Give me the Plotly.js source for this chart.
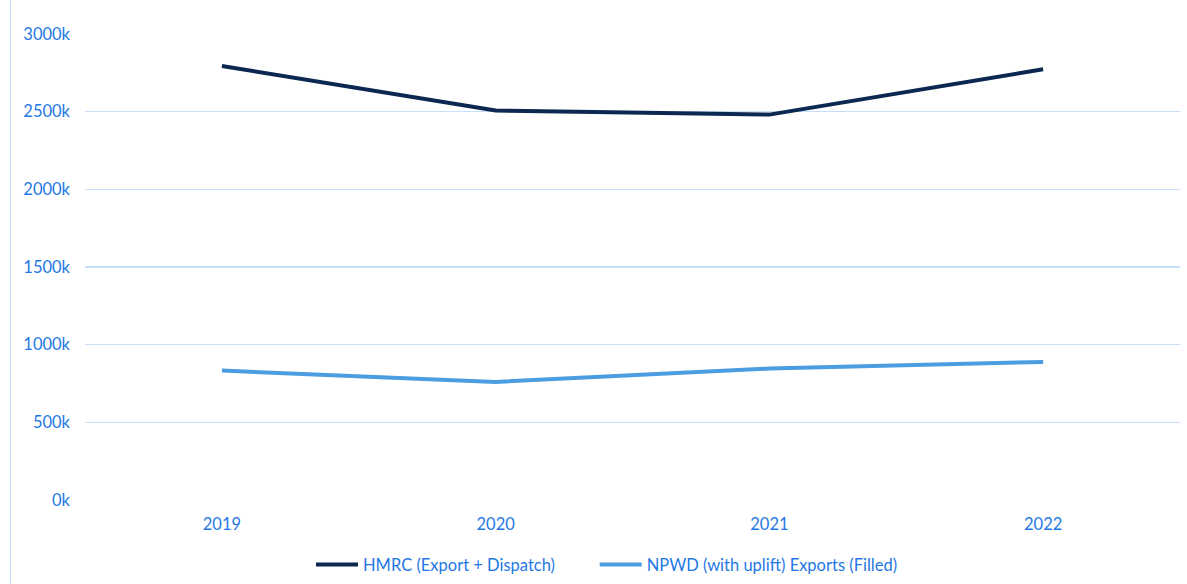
<!DOCTYPE html>
<html>
<head>
<meta charset="utf-8">
<script src="https://cdn.plot.ly/plotly-3.0.1.min.js"></script>
<style>
  html, body { margin: 0; padding: 0; background: #ffffff; }
  #chart { width: 1187px; height: 584px; position: relative; }
  #edge { position: absolute; left: 10px; top: 0; width: 1px; height: 584px; background: #c9defa; z-index: 5; }
</style>
</head>
<body>
<div id="edge"></div>
<div id="chart"></div>
<script>
// Annual tonnage (thousands) by source
const years = ['2019', '2020', '2021', '2022'];
const hmrcExportDispatch = [2794, 2507, 2481, 2773];
const npwdExportsFilled = [833, 760, 846, 889];
const yTickValues = [0, 500, 1000, 1500, 2000, 2500, 3000];
const yTickLabels = ['0k', '500k', '1000k', '1500k', '2000k', '2500k', '3000k'];

const textBlue = '#1f78e4';
const fontFamily = 'Lato, "Open Sans", sans-serif';

const traces = [
  {
    x: years, y: hmrcExportDispatch, type: 'scatter', mode: 'lines',
    name: 'HMRC (Export + Dispatch)', legend: 'legend',
    line: { color: '#0a2850', width: 4 }
  },
  {
    x: years, y: npwdExportsFilled, type: 'scatter', mode: 'lines',
    name: 'NPWD (with uplift) Exports (Filled)', legend: 'legend2',
    line: { color: '#4a9de0', width: 4 }
  }
];

// one legend box per series so the two entries can be spaced freely
function legendBox(left) {
  return {
    orientation: 'h', x: left, xref: 'container', xanchor: 'left',
    y: 0.033, yref: 'container', yanchor: 'middle',
    font: { family: fontFamily, size: 16.5, color: textBlue },
    itemwidth: 42, bgcolor: 'rgba(0,0,0,0)'
  };
}

const layout = {
  width: 1187, height: 584,
  margin: { l: 85, r: 7, t: 34, b: 83.5, autoexpand: false },
  paper_bgcolor: '#ffffff', plot_bgcolor: '#ffffff',
  font: { family: fontFamily, size: 16.5, color: textBlue },
  showlegend: true,
  legend: legendBox(0.262),
  legend2: legendBox(0.501),
  xaxis: {
    type: 'category', range: [-0.5, 3.5],
    showgrid: false, zeroline: false, showline: false, ticks: '',
    ticklabelstandoff: 12,
    tickfont: { family: fontFamily, size: 16.5, color: textBlue }
  },
  yaxis: {
    range: [0, 3000], tickvals: yTickValues, ticktext: yTickLabels,
    showgrid: true, gridcolor: '#c9defa', gridwidth: 1.3,
    zeroline: false, showline: false, ticks: '',
    ticklabelstandoff: 14,
    tickfont: { family: fontFamily, size: 16.5, color: textBlue }
  }
};

Plotly.newPlot('chart', traces, layout, { displayModeBar: false, staticPlot: true });
</script>
</body>
</html>
